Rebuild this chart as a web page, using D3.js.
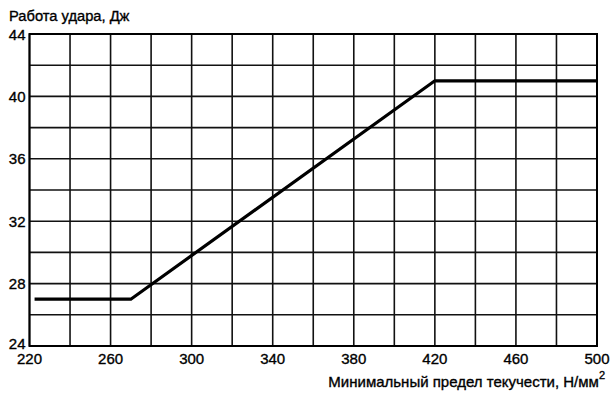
<!DOCTYPE html>
<html><head><meta charset="utf-8">
<script src="https://cdn.jsdelivr.net/npm/d3@7"></script>
<style>body{margin:0;background:#fff}svg{display:block}text{font-family:"Liberation Sans",Arial,sans-serif;fill:#000;stroke:#000;stroke-width:0.35px}</style>
</head><body>
<script>
const xValues = [222.5, 270, 420, 500];
const yValues = [27, 27, 41, 41];
const xTicks = [220, 260, 300, 340, 380, 420, 460, 500];
const yTicks = [24, 28, 32, 36, 40, 44];
const xGrid = d3.range(220, 501, 20);
const yGrid = d3.range(24, 45, 2);
const yTitle = "Работа удара, Дж";
const xTitle = "Минимальный предел текучести, Н/мм";

const W = 616, H = 394;
const svg = d3.select("body").append("svg").attr("width", W).attr("height", H);
const x = d3.scaleLinear().domain([220, 500]).range([29.5, 597]);
const y = d3.scaleLinear().domain([24, 44]).range([346, 34]);

const g = svg.append("g");
g.selectAll(".vg").data(xGrid).enter().append("line")
  .attr("x1", d => x(d)).attr("x2", d => x(d)).attr("y1", y(24)).attr("y2", y(44))
  .attr("stroke", "#111").attr("stroke-width", 1.6);
g.selectAll(".hg").data(yGrid).enter().append("line")
  .attr("y1", d => y(d)).attr("y2", d => y(d)).attr("x1", x(220)).attr("x2", x(500))
  .attr("stroke", "#111").attr("stroke-width", 1.6);
g.append("rect").attr("x", x(220)).attr("y", y(44)).attr("width", x(500)-x(220)).attr("height", y(24)-y(44))
  .attr("fill", "none").attr("stroke", "#000").attr("stroke-width", 2);

const pts = xValues.map((v, i) => [v, yValues[i]]);
svg.append("path").datum(pts)
  .attr("d", d3.line().x(d => x(d[0])).y(d => y(d[1])))
  .attr("fill", "none").attr("stroke", "#000").attr("stroke-width", 3.2).attr("stroke-linejoin", "miter");

svg.selectAll(".yt").data(yTicks).enter().append("text")
  .attr("x", 25.5).attr("y", d => y(d) + (d === 24 ? 3 : 5.5)).attr("text-anchor", "end")
  .attr("font-size", 15).text(d => d);
svg.selectAll(".xt").data(xTicks).enter().append("text")
  .attr("x", d => x(d)).attr("y", 363.5).attr("text-anchor", "middle")
  .attr("font-size", 15).text(d => d);

svg.append("text").attr("x", 9).attr("y", 20.5).attr("font-size", 14.7).text(yTitle);
const xt = svg.append("text").attr("x", 605).attr("y", 387).attr("text-anchor", "end").attr("font-size", 15);
xt.append("tspan").text(xTitle);
xt.append("tspan").attr("dy", -8.5).attr("font-size", 11).text("2");
</script>
</body></html>
